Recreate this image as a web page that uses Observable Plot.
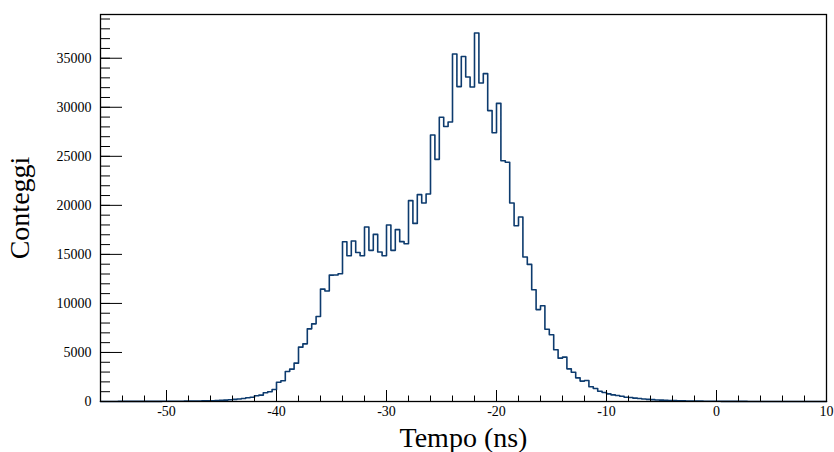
<!DOCTYPE html>
<html><head><meta charset="utf-8">
<script src="https://cdn.jsdelivr.net/npm/d3@7"></script>
<script src="https://cdn.jsdelivr.net/npm/@observablehq/plot@0.6"></script>
<style>body{margin:0;background:#fff}</style>
</head><body><div id="chart"></div>
<script>
// Histogram binning: first bin low edge and bin width (ns)
const binLow = -56;
const binWidth = 0.4;
// Counts per bin
const counts = [
  5, 6, 6, 7, 8, 8, 9, 10, 11, 12,
  13, 14, 16, 17, 19, 21, 24, 27, 30, 34,
  39, 45, 52, 60, 70, 82, 100, 120, 145, 175,
  215, 250, 306, 375, 440, 580, 645, 885, 990, 1220,
  1970, 2110, 3060, 3300, 3910, 5540, 5880, 7410, 7920, 8670,
  11460, 11260, 12890, 12900, 13030, 16290, 14860, 16360, 15200, 14860,
  17790, 15410, 17040, 15240, 14860, 17990, 15410, 17520, 16300, 16090,
  20480, 18160, 21090, 20240, 21160, 27180, 24690, 28980, 28040, 28500,
  35440, 32110, 35170, 33090, 32070, 37580, 32480, 33430, 29660, 27400,
  30400, 24550, 24400, 20240, 17920, 18810, 14730, 13980, 11390, 9370,
  9760, 7360, 6800, 5270, 4420, 4520, 3330, 2990, 2410, 2080,
  2140, 1500, 1330, 1050, 920, 780, 680, 610, 540, 440,
  410, 340, 300, 260, 220, 190, 160, 140, 120, 100,
  88, 75, 64, 55, 47, 40, 35, 30, 26, 22,
  19, 16, 14, 12, 10, 9, 8, 7, 6, 5,
  5, 4, 4, 3, 3, 2, 2, 2, 2, 1,
  1, 1, 1, 1, 0
];
const xDomain = [-56, 10];
const yDomain = [0, 39460];
const xTickLabels = [-50, -40, -30, -20, -10, 0, 10];
const yTickLabels = [0, 5000, 10000, 15000, 20000, 25000, 30000, 35000];
const xMinorTicks = d3.range(-56, 10.001, 2);
const yMinorTicks = d3.range(0, 39001, 1000);

const points = counts.map((c, i) => ({x: binLow + i * binWidth, y: c}));
points.push({x: binLow + counts.length * binWidth, y: counts[counts.length - 1]});

const W = 834, H = 452, mL = 100, mR = 8, mT = 14, mB = 51;
const frameW = W - mL - mR, frameH = H - mT - mB;

const chart = Plot.plot({
  width: W, height: H,
  marginLeft: mL, marginRight: mR, marginTop: mT, marginBottom: mB,
  style: {fontFamily: "'Liberation Serif', serif", fontSize: "14px", background: "white", color: "black"},
  x: {domain: xDomain},
  y: {domain: yDomain},
  marks: [
    Plot.line(points, {x: "x", y: "y", curve: "step-after", stroke: "#0d3b6e", strokeWidth: 1.6}),
    Plot.ruleX(xMinorTicks, {x: d => d, insetTop: frameH - 5.5, stroke: "black"}),
    Plot.ruleX(xTickLabels, {x: d => d, insetTop: frameH - 11, stroke: "black"}),
    Plot.ruleY(yMinorTicks, {y: d => d, insetRight: frameW - 10, stroke: "black"}),
    Plot.ruleY(yTickLabels, {y: d => d, insetRight: frameW - 22, stroke: "black"}),
    Plot.axisX(xTickLabels, {tickSize: 0, tickPadding: 5, tickFormat: d => String(d), fontSize: 14, label: null}),
    Plot.axisY(yTickLabels, {tickSize: 0, tickPadding: 9, tickFormat: d => String(d), fontSize: 14, label: null}),
    Plot.frame({stroke: "black", strokeWidth: 1.3}),
    Plot.text(["Tempo (ns)"], {text: d => d, frameAnchor: "bottom", dy: 37, fontSize: 28, textAnchor: "middle", lineAnchor: "middle"}),
    Plot.text(["Conteggi"], {text: d => d, frameAnchor: "left", dx: -80, rotate: -90, fontSize: 28, textAnchor: "middle", lineAnchor: "middle"})
  ]
});
document.getElementById("chart").appendChild(chart);
</script>
</body></html>
